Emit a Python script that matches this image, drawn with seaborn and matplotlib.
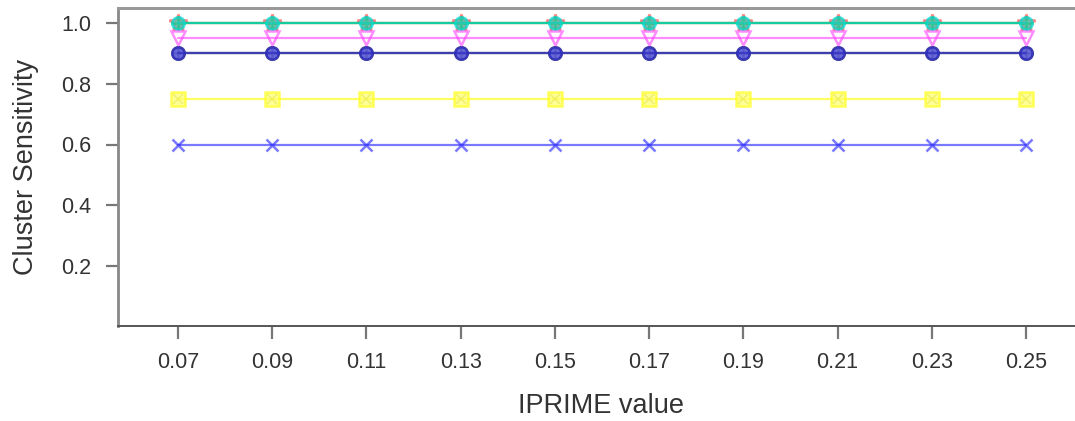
import matplotlib
matplotlib.use("Agg")
import matplotlib.pyplot as plt
import seaborn as sns
import pandas as pd

# IPRIME parameter sweep and resulting cluster sensitivity per method
iprime = [0.07, 0.09, 0.11, 0.13, 0.15, 0.17, 0.19, 0.21, 0.23, 0.25]
xtick_labels = ["0.07", "0.09", "0.11", "0.13", "0.15", "0.17", "0.19", "0.21", "0.23", "0.25"]
ytick_values = [0.2, 0.4, 0.6, 0.8, 1.0]

s_black = [0.9, 0.9, 0.9, 0.9, 0.9, 0.9, 0.9, 0.9, 0.9, 0.9]
s_red = [1.0, 1.0, 1.0, 1.0, 1.0, 1.0, 1.0, 1.0, 1.0, 1.0]
s_green = [1.0, 1.0, 1.0, 1.0, 1.0, 1.0, 1.0, 1.0, 1.0, 1.0]
s_blue = [0.6, 0.6, 0.6, 0.6, 0.6, 0.6, 0.6, 0.6, 0.6, 0.6]
s_cyan = [1.0, 1.0, 1.0, 1.0, 1.0, 1.0, 1.0, 1.0, 1.0, 1.0]
s_magenta = [0.95, 0.95, 0.95, 0.95, 0.95, 0.95, 0.95, 0.95, 0.95, 0.95]
s_yellow = [0.75, 0.75, 0.75, 0.75, 0.75, 0.75, 0.75, 0.75, 0.75, 0.75]
s_gray = [0.9, 0.9, 0.9, 0.9, 0.9, 0.9, 0.9, 0.9, 0.9, 0.9]
s_navy = [0.9, 0.9, 0.9, 0.9, 0.9, 0.9, 0.9, 0.9, 0.9, 0.9]

# name, values, colour, marker, alpha, marker face
series = [
    ("s1", s_black, "#000000", "o", 0.5, "none"),
    ("s2", s_red, "#ff3030", "*", 0.6, "none"),
    ("s3", s_green, "#20b020", "+", 0.8, "none"),
    ("s5", s_cyan, "#00dcd0", "o", 0.7, "#30c8b8"),
    ("s4", s_blue, "#2020ff", "x", 0.6, "none"),
    ("s6", s_magenta, "#ff40ff", "v", 0.6, "none"),
    ("s7", s_yellow, "#ffff20", "s", 0.7, "#ffff70"),
    ("s8", s_gray, "#808080", "+", 0.55, "none"),
    ("s9", s_navy, "#2a2ac0", "o", 0.75, "#3a3ad0"),
]

frames = []
for name, vals, *_ in series:
    frames.append(pd.DataFrame({"iprime": iprime, "sens": vals, "method": name}))
df = pd.concat(frames, ignore_index=True)

sns.set_style("white")
plt.rcParams["font.family"] = ["Liberation Sans", "DejaVu Sans"]

fig = plt.figure(figsize=(10.75, 4.21), dpi=100)
W, H = 1075, 421
left, right, top, bottom = 118, 1085, 8, 326
ax = fig.add_axes([left / W, 1 - bottom / H, (right - left) / W, (bottom - top) / H])

for name, vals, color, marker, alpha, face in series:
    sub = df[df["method"] == name]
    size = {"o": 9, "*": 13, "+": 10, "x": 9, "v": 10, "s": 10}[marker]
    sns.lineplot(
        data=sub, x="iprime", y="sens", ax=ax, color=color, alpha=alpha,
        linewidth=1.6, marker=marker, markersize=size,
        markerfacecolor=face, markeredgecolor=color,
        markeredgewidth=1.8, legend=False,
    )

# cross inside the yellow squares
sns.lineplot(x=iprime, y=s_yellow, ax=ax, color="#f0f040", alpha=0.6, linewidth=0,
             marker="x", markersize=7, markeredgewidth=1.2, markeredgecolor="#e8e850",
             legend=False)

x_left = 0.07 - (178 - left) / 4711.0
x_right = 0.25 + (right - 1026) / 4711.0
ax.set_xlim(x_left, x_right)
ax.set_ylim(0.2 - (bottom - 266) / 303.75, 1.0 + (23 - top) / 303.75)

ax.set_xticks(iprime)
ax.set_xticklabels(xtick_labels)
ax.set_yticks(ytick_values)
ax.set_yticklabels([f"{v:.1f}" for v in ytick_values])

ax.tick_params(axis="both", direction="out", length=9, width=1.6, color="#777777",
               labelsize=15.5, labelcolor="#333333", pad=10)
ax.tick_params(axis="y", left=True)
ax.tick_params(axis="x", bottom=True)

for side in ("left", "top", "bottom", "right"):
    ax.spines[side].set_visible(True)
ax.spines["left"].set_color("#888888")
ax.spines["left"].set_linewidth(2.0)
ax.spines["top"].set_color("#999999")
ax.spines["top"].set_linewidth(2.2)
ax.spines["bottom"].set_color("#555555")
ax.spines["bottom"].set_linewidth(1.4)
ax.spines["right"].set_visible(False)

ax.set_xlabel("IPRIME value", fontsize=19.5, color="#333333", labelpad=14)
ax.set_ylabel("Cluster Sensitivity", fontsize=19.5, color="#333333", labelpad=16)

fig.savefig("out.png", dpi=100, facecolor="white")
